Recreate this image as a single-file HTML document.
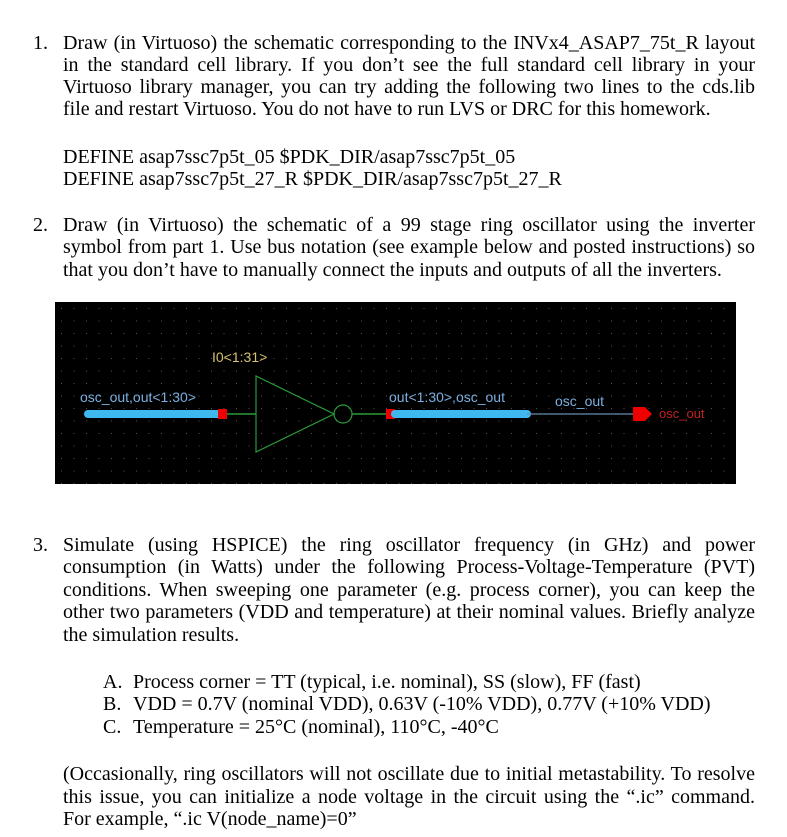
<!DOCTYPE html>
<html><head><meta charset="utf-8"><style>
body{margin:0;background:#fff;width:787px;height:837px;overflow:hidden;position:relative;font-family:"Liberation Serif",serif;font-size:20px;color:#000}
.l{position:absolute;left:63px;width:692px;white-space:nowrap;line-height:22px;height:22px}
.j{text-align:justify;text-align-last:justify;white-space:normal}
.n{position:absolute;left:33px;line-height:22px}
.s{position:absolute;left:103px;line-height:22px}
.t{position:absolute;left:133px;line-height:22px;white-space:nowrap}
</style></head><body>
<div>
<div class="n" style="top:32px">1.</div>
<div class="l j" style="top:32px">Draw (in Virtuoso) the schematic corresponding to the INVx4_ASAP7_75t_R layout</div>
<div class="l j" style="top:54px">in the standard cell library. If you don’t see the full standard cell library in your</div>
<div class="l j" style="top:76px">Virtuoso library manager, you can try adding the following two lines to the cds.lib</div>
<div class="l" style="top:98px">file and restart Virtuoso. You do not have to run LVS or DRC for this homework.</div>
<div class="l" style="top:146px">DEFINE asap7ssc7p5t_05 $PDK_DIR/asap7ssc7p5t_05</div>
<div class="l" style="top:168px">DEFINE asap7ssc7p5t_27_R $PDK_DIR/asap7ssc7p5t_27_R</div>
</div>
<div>
<div class="n" style="top:214px">2.</div>
<div class="l j" style="top:214px">Draw (in Virtuoso) the schematic of a 99 stage ring oscillator using the inverter</div>
<div class="l j" style="top:236px">symbol from part 1. Use bus notation (see example below and posted instructions) so</div>
<div class="l" style="top:259px">that you don’t have to manually connect the inputs and outputs of all the inverters.</div>
</div>
<svg style="position:absolute;left:55px;top:302px" width="681" height="182" viewBox="55 302 681 182">
<defs><pattern id="g" x="55" y="302" width="12.5" height="12.5" patternUnits="userSpaceOnUse"><rect x="6" y="6" width="1" height="1" fill="#555"/></pattern></defs>
<rect x="55" y="302" width="681" height="182" fill="#000"/>
<rect x="55" y="302" width="681" height="182" fill="url(#g)"/>
<text x="212" y="362" fill="#d8c070" font-family="Liberation Sans,sans-serif" font-size="14">I0&lt;1:31&gt;</text>
<text x="80" y="402" fill="#7ab0e0" font-family="Liberation Sans,sans-serif" font-size="14">osc_out,out&lt;1:30&gt;</text>
<line x1="88" y1="414" x2="221" y2="414" stroke="#3fb8f0" stroke-width="8" stroke-linecap="round"/>
<rect x="218" y="409" width="9" height="10" fill="#e00"/>
<line x1="227" y1="414" x2="256" y2="414" stroke="#2a9a3a" stroke-width="1.5"/>
<polygon points="256,376 256,452 334,414" fill="none" stroke="#2a9a3a" stroke-width="1.2"/>
<circle cx="343" cy="414" r="9" fill="none" stroke="#2a9a3a" stroke-width="1.2"/>
<line x1="352" y1="414" x2="388" y2="414" stroke="#2a9a3a" stroke-width="1.5"/>
<rect x="386" y="409" width="9" height="10" fill="#e00"/>
<text x="389" y="402" fill="#7ab0e0" font-family="Liberation Sans,sans-serif" font-size="14">out&lt;1:30&gt;,osc_out</text>
<line x1="395" y1="414" x2="527" y2="414" stroke="#3fb8f0" stroke-width="8" stroke-linecap="round"/>
<line x1="527" y1="414" x2="633" y2="414" stroke="#6a8cb0" stroke-width="1.2"/>
<text x="555" y="406" fill="#7ab0e0" font-family="Liberation Sans,sans-serif" font-size="14">osc_out</text>
<polygon points="633,407 645,407 652,414 645,421 633,421" fill="#e00"/>
<text x="659" y="418" fill="#c02020" font-family="Liberation Sans,sans-serif" font-size="13">osc_out</text>
</svg>
<div>
<div class="n" style="top:534px">3.</div>
<div class="l j" style="top:534px">Simulate (using HSPICE) the ring oscillator frequency (in GHz) and power</div>
<div class="l j" style="top:556px">consumption (in Watts) under the following Process-Voltage-Temperature (PVT)</div>
<div class="l j" style="top:579px">conditions. When sweeping one parameter (e.g. process corner), you can keep the</div>
<div class="l j" style="top:601px">other two parameters (VDD and temperature) at their nominal values. Briefly analyze</div>
<div class="l" style="top:624px">the simulation results.</div>
<div class="s" style="top:671px">A.</div><div class="t" style="top:671px">Process corner = TT (typical, i.e. nominal), SS (slow), FF (fast)</div>
<div class="s" style="top:693px">B.</div><div class="t" style="top:693px">VDD = 0.7V (nominal VDD), 0.63V (-10% VDD), 0.77V (+10% VDD)</div>
<div class="s" style="top:716px">C.</div><div class="t" style="top:716px">Temperature = 25°C (nominal), 110°C, -40°C</div>
<div class="l j" style="top:763px">(Occasionally, ring oscillators will not oscillate due to initial metastability. To resolve</div>
<div class="l j" style="top:786px">this issue, you can initialize a node voltage in the circuit using the “.ic” command.</div>
<div class="l" style="top:808px">For example, “.ic V(node_name)=0”</div>
</div>
</body></html>
